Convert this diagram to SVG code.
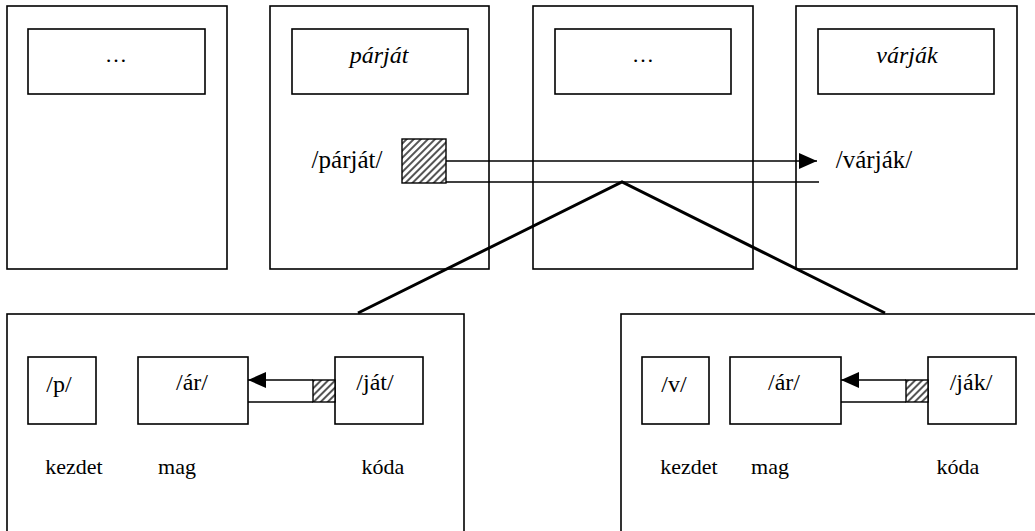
<svg xmlns="http://www.w3.org/2000/svg" width="1035" height="531" viewBox="0 0 1035 531" font-family="Times New Roman">
<style>
rect.box{fill:#fff;stroke:#000;stroke-width:1.6}
rect.hatched{fill:url(#hatch);stroke:#000;stroke-width:1.4}
.thin{stroke:#000;stroke-width:1.6;fill:none}
.thick{stroke:#000;stroke-width:3;fill:none}
text{fill:#000;text-anchor:middle}
.lab{font-size:22px}
.ph{font-size:24px}
.big{font-size:25px}
.it{font-size:24px;font-style:italic}
</style>
<defs>
<pattern id="hatch" width="5" height="5" patternUnits="userSpaceOnUse" patternTransform="rotate(45)">
<rect width="5" height="5" fill="#fff"/>
<line x1="1" y1="0" x2="1" y2="5" stroke="#555" stroke-width="2"/>
</pattern>
<marker id="arr" markerWidth="20" markerHeight="16" refX="18" refY="8" orient="auto" markerUnits="userSpaceOnUse">
<path d="M0,0 L18,8 L0,16 Z" fill="#000"/>
</marker>
</defs>
<rect width="1035" height="531" fill="#fff"/>
<g id="word1">
<rect class="box" x="7" y="6" width="220" height="263"/>
<rect class="box" x="28" y="29" width="177" height="65"/>
<text class="lab" x="116" y="62" font-family="Times New Roman">…</text>
</g>
<g id="word2">
<rect class="box" x="270" y="6" width="219" height="263"/>
<rect class="box" x="292" y="29" width="176" height="65"/>
<text class="it" x="379" y="63" font-family="Times New Roman">párját</text>
<text class="big" x="347" y="168" font-family="Times New Roman">/párját/</text>
</g>
<g id="word3">
<rect class="box" x="533" y="6" width="220" height="263"/>
<rect class="box" x="555" y="29" width="176" height="65"/>
<text class="lab" x="643" y="62" font-family="Times New Roman">…</text>
</g>
<g id="word4">
<rect class="box" x="796" y="6" width="221" height="263"/>
<rect class="box" x="818" y="29" width="176" height="65"/>
<text class="it" x="907" y="63" font-family="Times New Roman">várják</text>
<text class="big" x="874" y="168" font-family="Times New Roman">/várják/</text>
</g>
<g id="syll1">
<rect class="box" x="7" y="314" width="457" height="240"/>
<rect class="box" x="28" y="357" width="68" height="67"/>
<text class="ph" x="59" y="392" font-family="Times New Roman">/p/</text>
<rect class="box" x="138" y="357" width="110" height="67"/>
<text class="ph" x="192" y="390" font-family="Times New Roman">/ár/</text>
<rect class="box" x="335" y="357" width="88" height="67"/>
<text class="ph" x="375" y="390" font-family="Times New Roman">/ját/</text>
<text class="lab" x="74" y="474" font-family="Times New Roman">kezdet</text>
<text class="lab" x="177" y="474" font-family="Times New Roman">mag</text>
<text class="lab" x="383" y="474" font-family="Times New Roman">kóda</text>
</g>
<g id="syll2">
<rect class="box" x="621" y="314" width="440" height="240"/>
<rect class="box" x="642" y="357" width="67" height="67"/>
<text class="ph" x="674" y="392" font-family="Times New Roman">/v/</text>
<rect class="box" x="730" y="357" width="111" height="67"/>
<text class="ph" x="784" y="390" font-family="Times New Roman">/ár/</text>
<rect class="box" x="928" y="357" width="88" height="67"/>
<text class="ph" x="971" y="390" font-family="Times New Roman">/ják/</text>
<text class="lab" x="689" y="474" font-family="Times New Roman">kezdet</text>
<text class="lab" x="770" y="474" font-family="Times New Roman">mag</text>
<text class="lab" x="958" y="474" font-family="Times New Roman">kóda</text>
</g>
<g id="connectors">
<rect class="hatched" x="402" y="139" width="44" height="44"/>
<line class="thin" x1="446" y1="161" x2="817" y2="161" marker-end="url(#arr)"/>
<line class="thin" x1="446" y1="182" x2="819" y2="182"/>
<polyline class="thick" points="358,313 622,182 885,313"/>
<rect class="hatched" x="313" y="380" width="22" height="22"/>
<line class="thin" x1="313" y1="380" x2="248" y2="380" marker-end="url(#arr)"/>
<line class="thin" x1="313" y1="402" x2="248" y2="402"/>
<rect class="hatched" x="906" y="380" width="22" height="22"/>
<line class="thin" x1="906" y1="380" x2="841" y2="380" marker-end="url(#arr)"/>
<line class="thin" x1="906" y1="402" x2="841" y2="402"/>
</g>
</svg>
